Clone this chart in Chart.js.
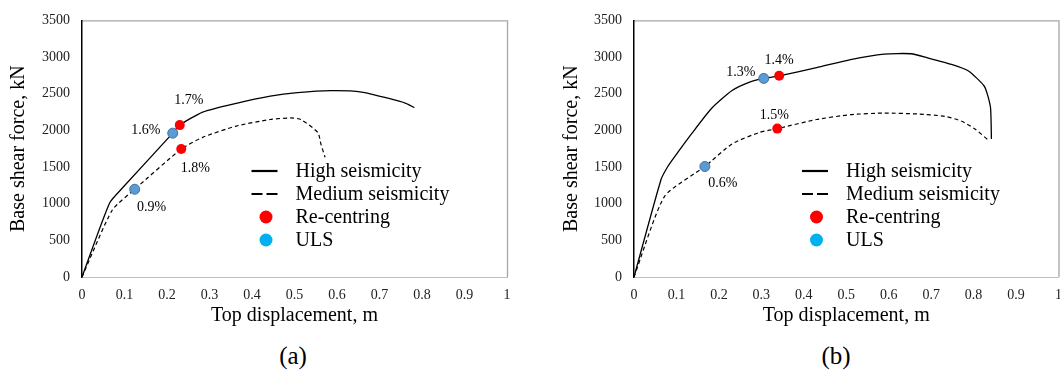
<!DOCTYPE html>
<html>
<head>
<meta charset="utf-8">
<script src="https://cdn.jsdelivr.net/npm/chart.js@4/dist/chart.umd.min.js"></script>
<style>
  html, body { margin: 0; padding: 0; background: #fff; }
  body { width: 1060px; height: 373px; position: relative; overflow: hidden; font-family: "Liberation Serif", "Times New Roman", serif; }
  canvas { position: absolute; top: 0; display: block; }
  .cap { position: absolute; top: 343px; font-size: 25px; line-height: 25px; color: #000; transform: translateX(-50%); }
</style>
</head>
<body>
<canvas id="ca" width="530" height="340" style="left:0;width:530px;height:340px"></canvas>
<canvas id="cb" width="542" height="340" style="left:530px;width:542px;height:340px"></canvas>
<div class="cap" style="left:293px">(a)</div>
<div class="cap" style="left:836px">(b)</div>
<script>
// ---------- DATA ----------
const xTickLabels = ['0','0.1','0.2','0.3','0.4','0.5','0.6','0.7','0.8','0.9','1'];
const yTickValues = [0,500,1000,1500,2000,2500,3000,3500];
const legendLabels = ['High seismicity','Medium seismicity','Re-centring','ULS'];

// (a)
const aHighX = [0, 0.065, 0.096, 0.2135, 0.23, 0.284, 0.363, 0.443, 0.507, 0.586, 0.658, 0.722, 0.762, 0.782];
const aHighY = [0, 1010, 1220, 1962, 2072, 2249, 2369, 2466, 2514, 2541, 2523, 2435, 2369, 2311];
const aMedX  = [0, 0.071, 0.124, 0.2335, 0.284, 0.363, 0.443, 0.491, 0.515, 0.555, 0.562, 0.572];
const aMedY  = [0, 911, 1197, 1745, 1905, 2059, 2148, 2170, 2148, 1971, 1816, 1631];
const aRecX  = [0.23, 0.2335];
const aRecY  = [2072, 1745];
const aRecLbl = ['1.7%', '1.8%'];
const aUlsX  = [0.2135, 0.124];
const aUlsY  = [1962, 1197];
const aUlsLbl = ['1.6%', '0.9%'];

// (b)
const bHighX = [0, 0.0637, 0.0796, 0.0955, 0.135, 0.183, 0.231, 0.271, 0.3057, 0.342, 0.43, 0.51, 0.589, 0.653, 0.693, 0.748, 0.788, 0.824, 0.832, 0.840, 0.842];
const bHighY = [0, 1330, 1507, 1639, 1949, 2302, 2545, 2656, 2709, 2744, 2855, 2965, 3040, 3045, 2987, 2899, 2810, 2612, 2501, 2302, 1882];
const bMedX  = [0, 0.072, 0.167, 0.231, 0.295, 0.3376, 0.43, 0.51, 0.589, 0.669, 0.732, 0.772, 0.804, 0.836];
const bMedY  = [0, 1100, 1507, 1816, 1971, 2024, 2148, 2214, 2236, 2223, 2192, 2125, 2015, 1860];
const bRecX  = [0.342, 0.3376];
const bRecY  = [2744, 2024];
const bRecLbl = ['1.4%', '1.5%'];
const bUlsX  = [0.3057, 0.167];
const bUlsY  = [2709, 1507];
const bUlsLbl = ['1.3%', '0.6%'];

// ---------- STYLE / LAYOUT ----------
const FONT = '"Liberation Serif", "Times New Roman", serif';
const RED = '#FF0000', BLUE = '#5B9BD5', BLUE_EDGE = '#41719C', LEG_BLUE = '#00B0F0';
const zip = (xs, ys) => xs.map((x, i) => ({x, y: ys[i]}));

function makeChart(id, d, lay) {
  const framePlugin = {
    id: 'frame',
    beforeDraw(chart) {
      const {ctx, chartArea: a} = chart;
      ctx.save();
      ctx.strokeStyle = '#A6A6A6';
      ctx.lineWidth = 1.3;
      ctx.beginPath();
      ctx.moveTo(a.left, a.top + 0.5); ctx.lineTo(a.right + 0.5, a.top + 0.5);
      ctx.lineTo(a.right + 0.5, a.bottom);
      ctx.stroke();
      ctx.restore();
    }
  };
  const annoPlugin = {
    id: 'anno',
    afterDatasetsDraw(chart) {
      const {ctx, chartArea: a, scales: {x, y}} = chart;
      ctx.save();
      ctx.font = '14px ' + FONT;
      ctx.fillStyle = '#000';
      ctx.textAlign = 'center';
      ctx.textBaseline = 'middle';
      const put = (xs, ys, lbls, offs) => xs.forEach((v, i) => {
        ctx.fillText(lbls[i], x.getPixelForValue(v) + offs[i][0], y.getPixelForValue(ys[i]) + offs[i][1]);
      });
      put(d.recX, d.recY, d.recLbl, lay.recOff);
      put(d.ulsX, d.ulsY, d.ulsLbl, lay.ulsOff);

      // legend
      const lx = a.left + lay.legX, tx = a.left + lay.legTextX;
      const rows = [171, 194, 217, 240];
      ctx.font = '20px ' + FONT;
      ctx.textAlign = 'left';
      ctx.strokeStyle = '#000';
      ctx.lineWidth = 2.2;
      ctx.beginPath(); ctx.moveTo(lx, rows[0]); ctx.lineTo(lx + 26, rows[0]); ctx.stroke();
      ctx.beginPath(); ctx.moveTo(lx, rows[1]); ctx.lineTo(lx + 11, rows[1]);
      ctx.moveTo(lx + 15, rows[1]); ctx.lineTo(lx + 26, rows[1]); ctx.stroke();
      ctx.fillStyle = RED;
      ctx.beginPath(); ctx.arc(lx + 14.5, rows[2], 6.5, 0, Math.PI * 2); ctx.fill();
      ctx.fillStyle = LEG_BLUE;
      ctx.beginPath(); ctx.arc(lx + 14.5, rows[3], 6.5, 0, Math.PI * 2); ctx.fill();
      ctx.fillStyle = '#000';
      legendLabels.forEach((t, i) => ctx.fillText(t, tx, rows[i] + 1));
      ctx.restore();
    }
  };
  return new Chart(document.getElementById(id), {
    type: 'scatter',
    data: {
      datasets: [
        {label: legendLabels[0], data: zip(d.hiX, d.hiY), showLine: true, borderColor: '#000', borderWidth: 1.3, pointRadius: 0, tension: 0.2, order: 3},
        {label: legendLabels[1], data: zip(d.medX, d.medY), showLine: true, borderColor: '#000', borderWidth: 1.2, borderDash: [4, 3], pointRadius: 0, tension: 0.2, order: 3},
        {label: legendLabels[2], data: zip(d.recX, d.recY), backgroundColor: RED, borderColor: RED, borderWidth: 0, pointRadius: 5, order: 1},
        {label: legendLabels[3], data: zip(d.ulsX, d.ulsY), backgroundColor: BLUE, borderColor: BLUE_EDGE, borderWidth: 1, pointRadius: 5, order: 2}
      ]
    },
    options: {
      responsive: false,
      animation: false,
      devicePixelRatio: 1,
      layout: {padding: {left: lay.padL, right: lay.padR, top: 13, bottom: 0}},
      plugins: {legend: {display: false}, tooltip: {enabled: false}},
      scales: {
        x: {
          type: 'linear', min: 0, max: 1,
          afterFit(s) { s.height = 63; },
          afterBuildTicks(s) { s.ticks = xTickLabels.map((t, i) => ({value: i / 10})); },
          ticks: {callback: (v, i) => xTickLabels[i], font: {family: FONT, size: 14}, color: '#222', padding: 10, maxRotation: 0, autoSkip: false},
          grid: {display: false, drawTicks: false},
          border: {display: true, color: '#BFBFBF', width: 1},
          title: {display: true, text: 'Top displacement, m', font: {family: FONT, size: 20}, color: '#000', padding: {top: 0, bottom: 12}}
        },
        y: {
          type: 'linear', min: 0, max: 3500,
          afterFit(s) { s.width = lay.yW; },
          afterBuildTicks(s) { s.ticks = yTickValues.map(v => ({value: v})); },
          ticks: {callback: (v) => String(v), font: {family: FONT, size: 14}, color: '#222', padding: 12},
          grid: {display: false, drawTicks: false},
          border: {display: true, color: '#000', width: 1.5},
          title: {display: true, text: 'Base shear force, kN', font: {family: FONT, size: 20}, color: '#000', padding: {top: 7, bottom: 0}}
        }
      }
    },
    plugins: [framePlugin, annoPlugin]
  });
}

makeChart('ca',
  {hiX: aHighX, hiY: aHighY, medX: aMedX, medY: aMedY, recX: aRecX, recY: aRecY, recLbl: aRecLbl, ulsX: aUlsX, ulsY: aUlsY, ulsLbl: aUlsLbl},
  {padL: 0, padR: 23, yW: 82, recOff: [[9, -25], [14, 19]], ulsOff: [[-27, -3], [17, 18]], legX: 169.5, legTextX: 213.5});
makeChart('cb',
  {hiX: bHighX, hiY: bHighY, medX: bMedX, medY: bMedY, recX: bRecX, recY: bRecY, recLbl: bRecLbl, ulsX: bUlsX, ulsY: bUlsY, ulsLbl: bUlsLbl},
  {padL: 23, padR: 7, yW: 81, recOff: [[0, -15], [-3, -13]], ulsOff: [[-23, -6], [18, 17]], legX: 168, legTextX: 212});
</script>
</body>
</html>
